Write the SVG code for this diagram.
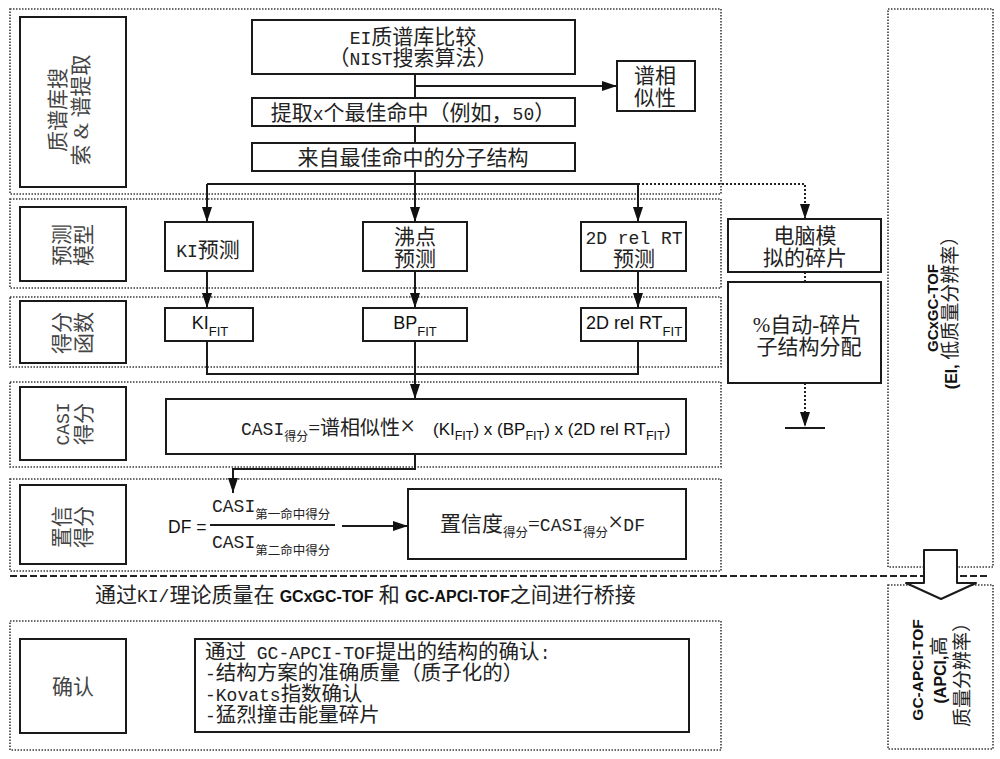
<svg xmlns="http://www.w3.org/2000/svg" width="1000" height="759" viewBox="0 0 1000 759">
<style>
.pn{fill:none;stroke:#3a3a3a;stroke-width:1.6;stroke-dasharray:1.5 1.5}
.bx{fill:#fff;stroke:#1a1a1a;stroke-width:2}
.ln{fill:none;stroke:#1a1a1a;stroke-width:2}
.dt{fill:none;stroke:#222;stroke-width:2;stroke-dasharray:2 2}
.s{font-family:"Liberation Serif","Noto Sans CJK SC",serif;font-size:21px;fill:#222}
.m{font-family:"Liberation Mono","Noto Sans CJK SC",monospace;font-size:18px}
.a{font-family:"Liberation Sans","Noto Sans CJK SC",sans-serif;fill:#111}
.b{font-weight:bold}
.lb{fill:#444}
.c{text-anchor:middle}
</style>
<defs>
<marker id="ah" markerUnits="userSpaceOnUse" markerWidth="16" markerHeight="12" refX="15" refY="6" orient="auto"><path d="M0,1 L15,6 L0,11 z" fill="#111"/></marker>
</defs>
<rect width="1000" height="759" fill="#fff"/>

<g id="panels">
<rect class="pn" x="10" y="9" width="711" height="185"/>
<rect class="pn" x="10" y="199" width="711" height="89"/>
<rect class="pn" x="10" y="297" width="711" height="70"/>
<rect class="pn" x="10" y="382" width="711" height="85"/>
<rect class="pn" x="10" y="479" width="711" height="92"/>
<rect class="pn" x="10" y="621" width="711" height="129"/>
<rect class="pn" x="888" y="9" width="105" height="558"/>
<rect class="pn" x="888" y="585" width="105" height="164"/>
<path d="M10,576 H990" fill="none" stroke="#222" stroke-width="2" stroke-dasharray="7 3"/>
</g>

<g id="label-search">
<rect class="bx" x="20" y="17" width="106" height="170"/>
<text class="s lb c" transform="translate(65,110) rotate(-90)"><tspan x="0" y="0">质谱库搜</tspan><tspan x="0" y="23">索 &amp; 谱提取</tspan></text>
</g>
<g id="label-predict">
<rect class="bx" x="20" y="207" width="106" height="74"/>
<text class="s lb c" transform="translate(69,245) rotate(-90)"><tspan x="0" y="0">预测</tspan><tspan x="0" y="22">模型</tspan></text>
</g>
<g id="label-score">
<rect class="bx" x="20" y="301" width="106" height="62"/>
<text class="s lb c" transform="translate(69,333) rotate(-90)"><tspan x="0" y="0">得分</tspan><tspan x="0" y="22">函数</tspan></text>
</g>
<g id="label-casi">
<rect class="bx" x="20" y="387" width="106" height="73"/>
<text class="s lb c" transform="translate(69,424) rotate(-90)"><tspan x="0" y="0" class="m">CASI</tspan><tspan x="0" y="22">得分</tspan></text>
</g>
<g id="label-confidence">
<rect class="bx" x="20" y="485" width="106" height="79"/>
<text class="s lb c" transform="translate(69,527) rotate(-90)"><tspan x="0" y="0">置信</tspan><tspan x="0" y="22">得分</tspan></text>
</g>
<g id="label-confirm">
<rect class="bx" x="20" y="639" width="106" height="94"/>
<text class="s lb c" x="73" y="694">确认</text>
</g>

<g id="connectors">
<path class="ln" d="M415,74 V98"/>
<path class="ln" d="M415,86 H617" marker-end="url(#ah)"/>
<path class="ln" d="M415,126 V143"/>
<path class="ln" d="M415,171 V184"/>
<path class="ln" d="M207,184 H638"/>
<path class="ln" d="M207,184 V222" marker-end="url(#ah)"/>
<path class="ln" d="M415,184 V222" marker-end="url(#ah)"/>
<path class="ln" d="M638,184 V222" marker-end="url(#ah)"/>
<path class="dt" d="M638,184 H805 V219" marker-end="url(#ah)"/>
<path class="ln" d="M207,271 V308" marker-end="url(#ah)"/>
<path class="ln" d="M415,271 V308" marker-end="url(#ah)"/>
<path class="ln" d="M638,271 V308" marker-end="url(#ah)"/>
<path class="ln" d="M207,341 V374 H638 V341"/>
<path class="ln" d="M415,341 V399" marker-end="url(#ah)"/>
<path class="ln" d="M415,454 V469 H233 V493" marker-end="url(#ah)"/>
<path class="ln" d="M342,526 H408" marker-end="url(#ah)"/>
<path class="dt" d="M805,272 V282"/>
<path class="dt" d="M805,383 V427" marker-end="url(#ah)"/>
<path class="ln" d="M785,428 H825"/>
</g>

<g id="n-ei">
<rect class="bx" x="252" y="20" width="323" height="54"/>
<text class="s c"><tspan x="413" y="44"><tspan class="m">EI</tspan>质谱库比较</tspan><tspan x="413" y="65">（<tspan class="m">NIST</tspan>搜索算法）</tspan></text>
</g>
<g id="n-sim">
<rect class="bx" x="617" y="61" width="78" height="50"/>
<text class="s c"><tspan x="655" y="83">谱相</tspan><tspan x="655" y="105">似性</tspan></text>
</g>
<g id="n-extract">
<rect class="bx" x="252" y="98" width="323" height="28"/>
<text class="s c" x="413" y="120">提取<tspan class="m">x</tspan>个最佳命中（例如，<tspan class="m">50</tspan>）</text>
</g>
<g id="n-struct">
<rect class="bx" x="252" y="143" width="323" height="28"/>
<text class="s c" x="413" y="165">来自最佳命中的分子结构</text>
</g>
<g id="n-ki-pred">
<rect class="bx" x="165" y="222" width="88" height="49"/>
<text class="s c" x="208" y="257"><tspan class="m">KI</tspan>预测</text>
</g>
<g id="n-bp-pred">
<rect class="bx" x="363" y="222" width="104" height="49"/>
<text class="s c"><tspan x="415" y="244">沸点</tspan><tspan x="415" y="266">预测</tspan></text>
</g>
<g id="n-rt-pred">
<rect class="bx" x="581" y="222" width="105" height="49"/>
<text class="s c"><tspan x="634" y="244" class="m">2D rel RT</tspan><tspan x="634" y="266">预测</tspan></text>
</g>
<g id="n-ki-fit">
<rect class="bx" x="165" y="308" width="88" height="33"/>
<text class="a c" x="210" y="329" font-size="18">KI<tspan font-size="13" dy="7">FIT</tspan></text>
</g>
<g id="n-bp-fit">
<rect class="bx" x="363" y="308" width="104" height="33"/>
<text class="a c" x="415" y="329" font-size="18">BP<tspan font-size="13" dy="7">FIT</tspan></text>
</g>
<g id="n-rt-fit">
<rect class="bx" x="581" y="308" width="105" height="33"/>
<text class="a c" x="634" y="329" font-size="18">2D rel RT<tspan font-size="13" dy="7">FIT</tspan></text>
</g>
<g id="n-casi">
<rect class="bx" x="166" y="399" width="520" height="55"/>
<text class="s" x="241" y="435"><tspan class="m">CASI</tspan><tspan font-size="12" dy="6">得分</tspan><tspan dy="-6">=</tspan><tspan font-size="20">谱相似性</tspan><tspan font-size="27">×</tspan></text>
<text class="a" x="433" y="435" font-size="17">(KI<tspan font-size="12.5" dy="5">FIT</tspan><tspan dy="-5">) x (BP</tspan><tspan font-size="12.5" dy="5">FIT</tspan><tspan dy="-5">) x (2D rel RT</tspan><tspan font-size="12.5" dy="5">FIT</tspan><tspan dy="-5">)</tspan></text>
</g>
<g id="n-df">
<text class="a" x="168" y="533" font-size="17.5">DF =</text>
<text class="s" x="212" y="512"><tspan class="m">CASI</tspan><tspan font-size="12.5" dy="7">第一命中得分</tspan></text>
<path class="ln" d="M210,525 H335"/>
<text class="s" x="212" y="548"><tspan class="m">CASI</tspan><tspan font-size="12.5" dy="7">第二命中得分</tspan></text>
</g>
<g id="n-conf">
<rect class="bx" x="408" y="489" width="278" height="70"/>
<text class="s" x="440" y="531">置信度<tspan font-size="12.5" dy="6">得分</tspan><tspan dy="-6">=</tspan><tspan class="m">CASI</tspan><tspan font-size="12.5" dy="6">得分</tspan><tspan dy="-6" font-size="27">×</tspan><tspan class="m">DF</tspan></text>
</g>
<g id="n-frag">
<rect class="bx" x="728" y="219" width="153" height="53"/>
<text class="s c"><tspan x="805" y="243">电脑模</tspan><tspan x="805" y="265">拟的碎片</tspan></text>
</g>
<g id="n-auto">
<rect class="bx" x="728" y="282" width="153" height="101"/>
<text class="s c"><tspan x="807" y="332">%自动-碎片</tspan><tspan x="809" y="354">子结构分配</tspan></text>
</g>

<g id="bridge">
<text class="s" x="95" y="602">通过<tspan class="m">KI/</tspan>理论质量在 <tspan class="a b" font-size="16">GCxGC-TOF</tspan> 和 <tspan class="a b" font-size="16">GC-APCI-TOF</tspan>之间进行桥接</text>
</g>

<g id="n-confirm">
<rect class="bx" x="195" y="639" width="494" height="93"/>
<text class="s" style="font-size:20.5px"><tspan x="205" y="659">通过<tspan class="m"> GC-APCI-TOF</tspan>提出的结构的确认<tspan class="m">:</tspan></tspan><tspan x="205" y="680"><tspan class="m">-</tspan>结构方案的准确质量（质子化的）</tspan><tspan x="205" y="701"><tspan class="m">-Kovats</tspan>指数确认</tspan><tspan x="205" y="722"><tspan class="m">-</tspan>猛烈撞击能量碎片</tspan></text>
</g>

<g id="n-gcxgc">
<text class="s c" style="font-size:19px" transform="translate(938,308) rotate(-90)"><tspan x="0" y="0" class="a b" font-size="15">GCxGC-TOF</tspan><tspan x="0" y="19"><tspan class="a b" font-size="16">(EI, </tspan>低质量分辨率）</tspan></text>
</g>

<g id="big-arrow">
<polygon points="924,550 957,550 957,583 976,583 941,599 906,583 924,583" fill="#fff" stroke="#1a1a1a" stroke-width="2" stroke-linejoin="round"/>
</g>

<g id="n-apci">
<text class="s c" style="font-size:19px" transform="translate(923,670) rotate(-90)"><tspan x="0" y="0" class="a b" font-size="15.5">GC-APCI-TOF</tspan><tspan x="0" y="23"><tspan class="a b" font-size="16">(APCI,</tspan>高</tspan><tspan x="0" y="46">质量分辨率）</tspan></text>
</g>
</svg>
